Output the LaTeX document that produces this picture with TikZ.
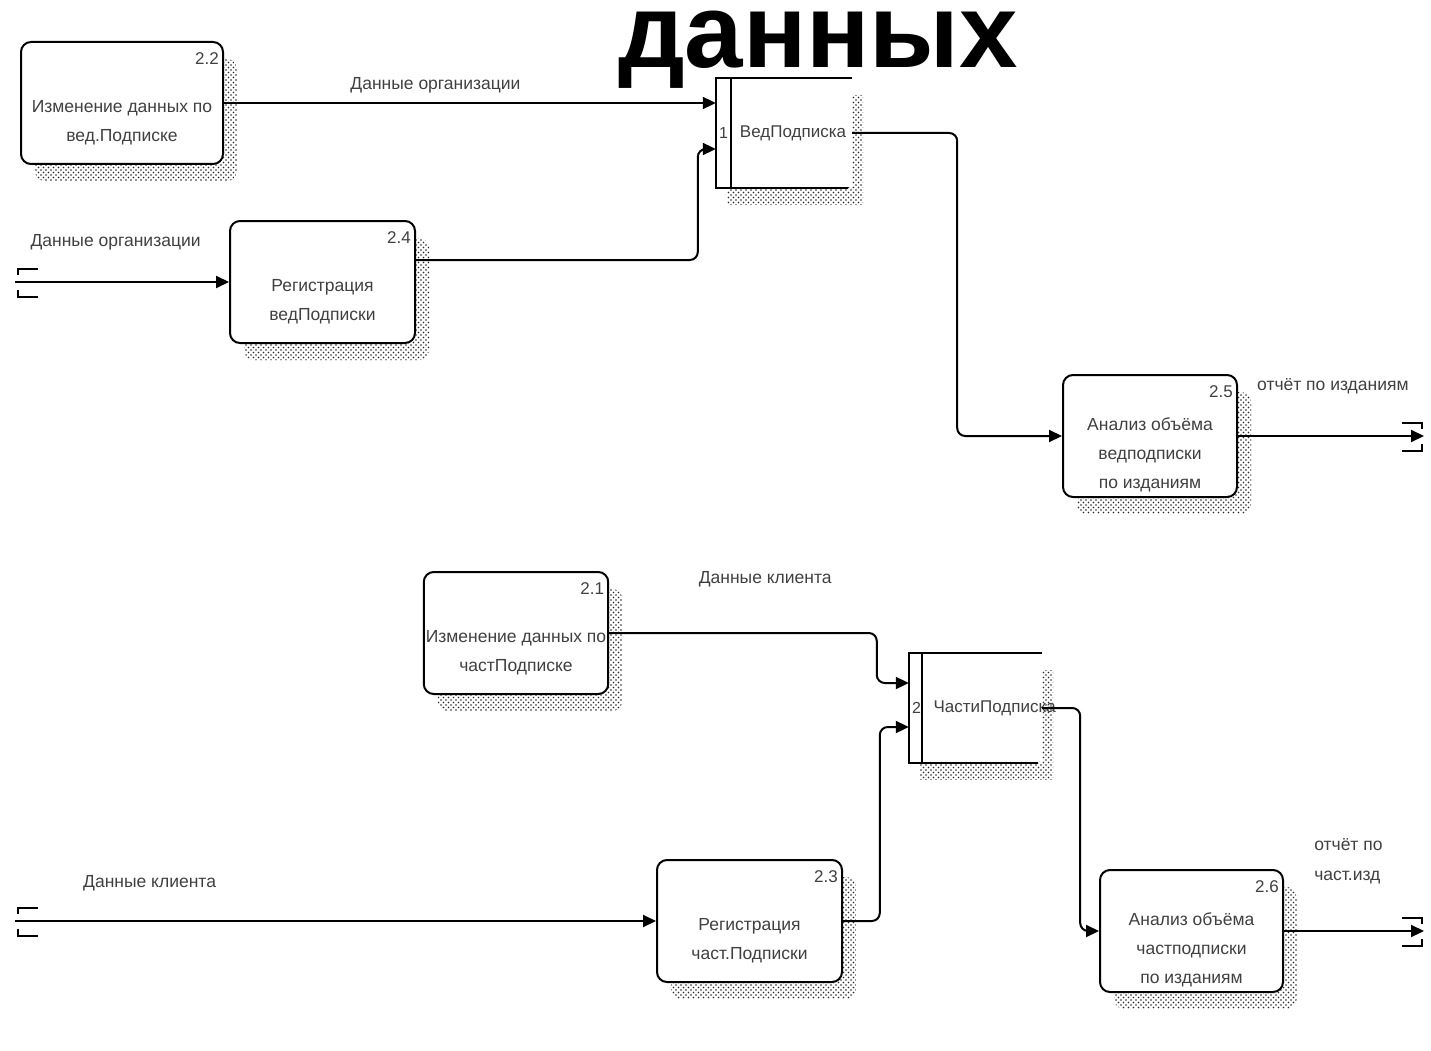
\documentclass[tikz,border=0pt]{standalone}
\usepackage{fontspec}
\setmainfont{Liberation Sans}
\usetikzlibrary{arrows.meta,calc,patterns,shadows,positioning}

\pgfdeclarepatternformonly{shadedots}{\pgfqpoint{-1pt}{-1pt}}{\pgfqpoint{6pt}{6pt}}{\pgfqpoint{5pt}{5pt}}{%
  \pgfpathcircle{\pgfqpoint{1pt}{1pt}}{0.85pt}%
  \pgfpathcircle{\pgfqpoint{3.5pt}{3.5pt}}{0.85pt}%
  \pgfusepath{fill}}

\begin{document}
\begin{tikzpicture}[x=1pt,y=-1pt,
        proc/.style={draw, line width=2pt, rounded corners=10pt, fill=white,
          minimum height=122pt, align=center, inner sep=2pt,
          font=\fontsize{17.5}{29}\selectfont, text=black!75,
          general shadow={pattern=shadedots, pattern color=black!85, shadow xshift=14pt, shadow yshift=-17pt}},
        num/.style={anchor=north east, inner sep=0pt, xshift=-5pt, yshift=-11pt,
          font=\fontsize{17}{18}\selectfont, text=black!75},
        store/.style={fill=white, minimum width=136pt, minimum height=109pt, inner sep=0pt,
          font=\fontsize{17}{18}\selectfont, text=black!75,
          general shadow={pattern=shadedots, pattern color=black!85, shadow xshift=11pt, shadow yshift=-17pt}},
        storenum/.style={anchor=west, inner sep=3pt, font=\fontsize{16}{18}\selectfont, text=black!75},
        storeline/.style={line width=2pt},
        flow/.style={line width=2pt, rounded corners=8pt, -{Triangle[length=13pt,width=12pt]}},
        lbl/.style={font=\fontsize{17.5}{30}\selectfont, text=black!75, inner sep=0pt},
        tunnel left/.pic={\draw[line width=2pt] (20,-13) -| (0,-7) (0,8) |- (20,15);},
        tunnel right/.pic={\draw[line width=2pt] (-20,-13) -| (0,-7) (0,8) |- (-20,15);}]
        \useasboundingbox (0,0) rectangle (1431,1051);

        \node[anchor=base, inner sep=0pt, font=\fontsize{105}{110}\selectfont\bfseries] (title) at (818,68) {данных};

        \node[proc, minimum width=202pt, label={[num]north east:2.2}] (b22) at (122,103) {\strut\\[2pt]Изменение данных по\\вед.Подписке};
        \node[proc, minimum width=185pt, label={[num]north east:2.4}] (b24) at (322.5,282) {\strut\\[2pt]Регистрация\\ведПодписки};
        \node[proc, minimum width=174pt, label={[num]north east:2.5}] (b25) at (1150,436) {\strut\\[2pt]Анализ объёма\\ведподписки\\по изданиям};
        \node[proc, minimum width=182pt, label={[num]north east:2.1}] (b21) at (516,633) {\strut\\[2pt]Изменение данных по\\частПодписке};
        \node[proc, minimum width=185pt, label={[num]north east:2.3}] (b23) at (749.5,921) {\strut\\[2pt]Регистрация\\част.Подписки};
        \node[proc, minimum width=183pt, label={[num]north east:2.6}] (b26) at (1191.5,931) {\strut\\[2pt]Анализ объёма\\частподписки\\по изданиям};

        \node[store, label={[storenum]west:1}] (st1) at (784,133) {\hspace*{18pt}ВедПодписка};
        \draw[storeline] (st1.north east) -- (st1.north west) -- (st1.south west) -- ($(st1.south east)+(-4,0)$);
        \draw[storeline] ($(st1.north west)+(15,0)$) -- ($(st1.south west)+(15,0)$);
        \node[store, minimum width=133pt, label={[storenum]west:2}] (st2) at (975.5,708) {\hspace*{12pt}\makebox[96pt][l]{ЧастиПодписка}};
        \draw[storeline] (st2.north east) -- (st2.north west) -- (st2.south west) -- ($(st2.south east)+(-4,0)$);
        \draw[storeline] ($(st2.north west)+(13,0)$) -- ($(st2.south west)+(13,0)$);

        \coordinate (s1a) at ($(st1.west)+(0,-30)$);
        \coordinate (s1b) at ($(st1.west)+(0,16)$);
        \coordinate (s2a) at ($(st2.west)+(0,-25)$);
        \coordinate (s2b) at ($(st2.west)+(0,19)$);

        \coordinate (t1) at (15,282);
        \coordinate (t2) at (15,921);
        \coordinate (t3) at (1424,436);
        \coordinate (t4) at (1424,931);
        \pic at (18,282) {tunnel left};
        \pic at (18,921) {tunnel left};
        \pic at (1422,436) {tunnel right};
        \pic at (1422,931) {tunnel right};

        \draw[flow] (b22.east) -- node[lbl, above=9pt, pos=0.43] {Данные организации} (s1a);
        \draw[flow] ($(b24.east)+(0,-22)$) -| ($(s1b)+(-18,0)$) -- (s1b);
        \draw[flow] (t1) -- node[lbl, above=31pt, pos=0.47] {Данные организации} (b24.west);
        \draw[flow] (st1.east) -- ++(105,0) |- (b25.west);
        \draw[flow] (b25.east) -- node[lbl, above=41pt, pos=0.51] {отчёт по изданиям} (t3);

        \draw[flow] (b21.east) -| ($(s2a)+(-32,0)$) -- (s2a);
        \node[lbl] (l21) at ($(b21.east)+(156,-54)$) {Данные клиента};
        \draw[flow] (t2) -- node[lbl, above=29pt, pos=0.21] {Данные клиента} (b23.west);
        \draw[flow] (b23.east) -| ($(s2b)+(-29,0)$) -- (s2b);
        \draw[flow] (st2.east) -- ++(38,0) |- (b26.west);
        \draw[flow] (b26.east) -- node[lbl, above=46pt, pos=0.46, align=left] {отчёт по\\част.изд} (t4);
\end{tikzpicture}
\end{document}
